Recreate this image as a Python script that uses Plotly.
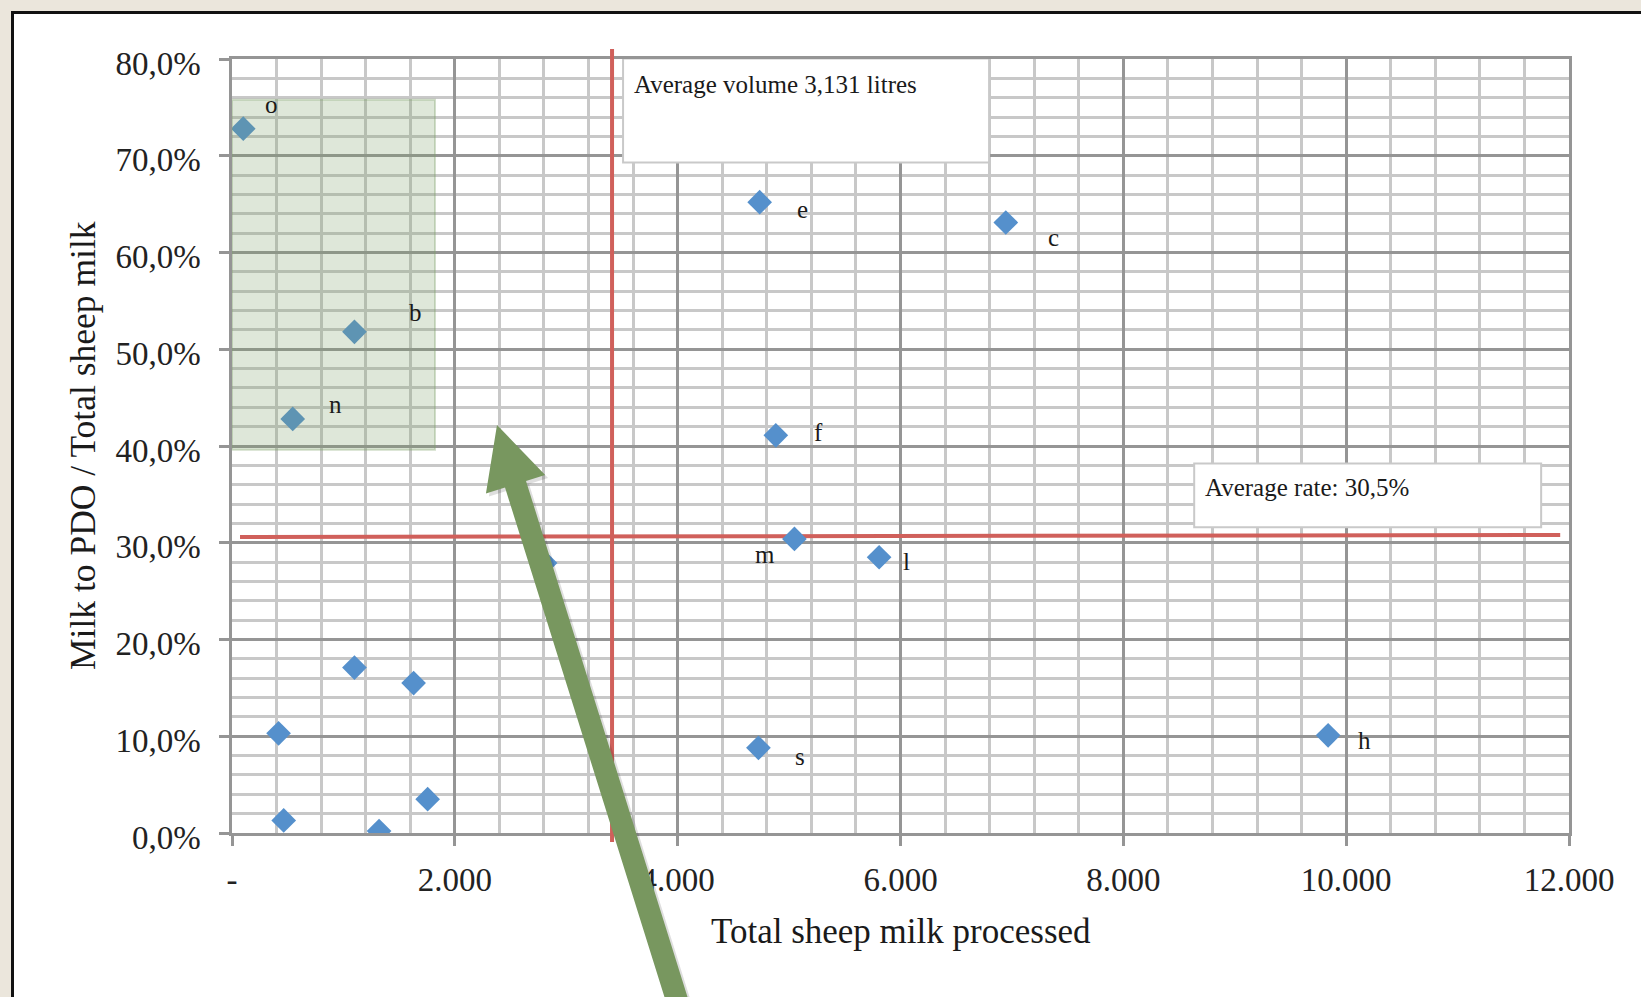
import plotly.graph_objects as go

# ---------------- data ----------------
labels = ["o", "e", "c", "b", "n", "f", "m", "l", "", "", "", "", "s", "h", "", "", ""]
milk_total = [101, 4736, 6945, 1099, 545, 4881, 5048, 5808, 2810, 1099, 1630, 418, 4725, 9838, 464, 1320, 1756]
pdo_rate = [72.8, 65.2, 63.1, 51.8, 42.8, 41.1, 30.4, 28.5, 27.9, 17.1, 15.5, 10.3, 8.8, 10.1, 1.3, 0.2, 3.5]

x_tickvals = [0, 2000, 4000, 6000, 8000, 10000, 12000]
x_ticktext = ["-", "2.000", "4.000", "6.000", "8.000", "10.000", "12.000"]
y_tickvals = [0, 10, 20, 30, 40, 50, 60, 70, 80]
y_ticktext = ["0,0%", "10,0%", "20,0%", "30,0%", "40,0%", "50,0%", "60,0%", "70,0%", "80,0%"]

avg_volume_text = "Average volume 3,131 litres"
avg_rate_text = "Average rate: 30,5%"
x_title = "Total sheep milk processed"
y_title = "Milk to PDO / Total sheep milk"

# label offsets in pixels (dx right, dy down)
label_offsets = {"o": (28, -24), "e": (43, 7), "c": (48, 15), "b": (61, -19), "n": (43, -14),
                 "f": (43, -3), "m": (-29, 16), "l": (27, 4), "s": (42, 9), "h": (36, 5)}

# ---------------- layout geometry ----------------
W, H = 1641, 997
L, R, T, B = 232, 1569, 59, 833  # plot area in pixels


def pp(px, py):
    return ((px - L) / (R - L), (B - py) / (B - T))


SERIF = "Liberation Serif, Times New Roman, serif"
MAJOR = "#959595"
MINOR = "#c8c8c8"

fig = go.Figure()
fig.add_trace(go.Scatter(
    x=milk_total, y=pdo_rate, mode="markers",
    marker=dict(symbol="diamond", size=19, color="#5590cc", line=dict(width=0)),
    hoverinfo="skip", showlegend=False,
))

shapes = []
# white frame with black border
fx0, fy1 = pp(12.5, 12.5)
fx1, fy0 = pp(1660, 1020)
shapes.append(dict(type="rect", xref="paper", yref="paper", x0=fx0, x1=fx1, y0=fy0, y1=fy1,
                   fillcolor="white", line=dict(color="#111111", width=3), layer="below"))

# average lines
shapes.append(dict(type="line", xref="x", yref="y", x0=72, x1=11921, y0=30.6, y1=30.8,
                   line=dict(color="#d0605b", width=4), layer="between"))
shapes.append(dict(type="line", xref="x", yref="paper", x0=3411, x1=3411, y0=-0.0116, y1=1.0129,
                   line=dict(color="#d0605b", width=4), layer="above"))

# text boxes
shapes.append(dict(type="rect", xref="x", yref="y", x0=3510, x1=6795, y0=69.3, y1=80.06,
                   fillcolor="white", line=dict(color="#c9c9c9", width=2), layer="between"))
shapes.append(dict(type="rect", xref="x", yref="y", x0=8636, x1=11750, y0=31.6, y1=38.2,
                   fillcolor="white", line=dict(color="#c9c9c9", width=2), layer="between"))

# green highlight box
shapes.append(dict(type="rect", xref="x", yref="y", x0=0, x1=1822, y0=39.6, y1=75.8,
                   fillcolor="rgba(125,160,105,0.25)", line=dict(color="rgba(125,160,105,0.35)", width=2),
                   layer="above"))

# green arrow (pixel geometry -> paper)
tip = (497, 425)
ux, uy = -0.2986, -0.9543      # direction toward tip
qx, qy = 0.9543, -0.2986       # perpendicular
head_len, head_half, shaft_half, total_len = 62, 31, 11, 660
hb = (tip[0] - head_len * ux, tip[1] - head_len * uy)
bt = (tip[0] - total_len * ux, tip[1] - total_len * uy)
poly = [tip,
        (hb[0] + head_half * qx, hb[1] + head_half * qy),
        (hb[0] + shaft_half * qx, hb[1] + shaft_half * qy),
        (bt[0] + shaft_half * qx, bt[1] + shaft_half * qy),
        (bt[0] - shaft_half * qx, bt[1] - shaft_half * qy),
        (hb[0] - shaft_half * qx, hb[1] - shaft_half * qy),
        (hb[0] - head_half * qx, hb[1] - head_half * qy)]


def path_of(points, dx=0, dy=0):
    parts = []
    for i, (a, b) in enumerate(points):
        x, y = pp(a + dx, b + dy)
        parts.append(("M" if i == 0 else "L") + f"{x:.5f},{y:.5f}")
    return " ".join(parts) + " Z"


shapes.append(dict(type="path", xref="paper", yref="paper", path=path_of(poly, 3, 3),
                   fillcolor="rgba(0,0,0,0.13)", line=dict(width=0), layer="above"))
shapes.append(dict(type="path", xref="paper", yref="paper", path=path_of(poly),
                   fillcolor="#78975f", line=dict(width=0), layer="above"))

annotations = []
for xv, yv, lab in zip(milk_total, pdo_rate, labels):
    if not lab:
        continue
    dx, dy = label_offsets[lab]
    annotations.append(dict(x=xv, y=yv, xref="x", yref="y", text=lab, showarrow=False,
                            xshift=dx, yshift=-dy, font=dict(family=SERIF, size=25, color="#1a1a1a")))

annotations.append(dict(x=3510, y=80, xref="x", yref="y", text=avg_volume_text, showarrow=False,
                        xanchor="left", yanchor="top", xshift=9, yshift=-10,
                        font=dict(family=SERIF, size=25, color="#1a1a1a")))
annotations.append(dict(x=8636, y=38.2, xref="x", yref="y", text=avg_rate_text, showarrow=False,
                        xanchor="left", yanchor="top", xshift=9, yshift=-9,
                        font=dict(family=SERIF, size=25, color="#1a1a1a")))

tx, ty = pp(900.5, 931)
annotations.append(dict(x=0.5, y=ty, xref="paper", yref="paper", text=x_title, showarrow=False,
                        xanchor="center", yanchor="middle", font=dict(family=SERIF, size=35, color="#1a1a1a")))
yx, yy = pp(83, 446)
annotations.append(dict(x=yx, y=yy, xref="paper", yref="paper", text=y_title, showarrow=False, textangle=-90,
                        xanchor="center", yanchor="middle", font=dict(family=SERIF, size=35.5, color="#1a1a1a")))

axis_common = dict(showgrid=True, gridcolor=MAJOR, gridwidth=2.5, zeroline=False,
                   showline=True, linecolor=MAJOR, linewidth=2.5, mirror=True,
                   ticks="outside", ticklen=10, tickwidth=2.5, tickcolor=MAJOR,
                   tickfont=dict(family=SERIF, size=33, color="#222222"))

fig.update_layout(
    width=W, height=H,
    margin=dict(l=L, r=W - R, t=T, b=H - B, pad=0),
    paper_bgcolor="#ebe6dc", plot_bgcolor="white",
    shapes=shapes, annotations=annotations,
    xaxis=dict(range=[0, 12000], tickmode="array", tickvals=x_tickvals, ticktext=x_ticktext,
               minor=dict(dtick=400, tick0=0, showgrid=True, gridcolor=MINOR, gridwidth=2.5, ticks=""),
               ticklabelstandoff=6, **axis_common),
    yaxis=dict(range=[0, 80], tickmode="array", tickvals=y_tickvals, ticktext=y_ticktext,
               minor=dict(dtick=2, tick0=0, showgrid=True, gridcolor=MINOR, gridwidth=2.5, ticks=""),
               ticklabelstandoff=12, ticklabelshift=4, **axis_common),
    showlegend=False,
)

fig.write_html("out.html", config={"displayModeBar": False},
               post_script="document.body.style.margin='0';document.body.style.overflow='hidden';")
